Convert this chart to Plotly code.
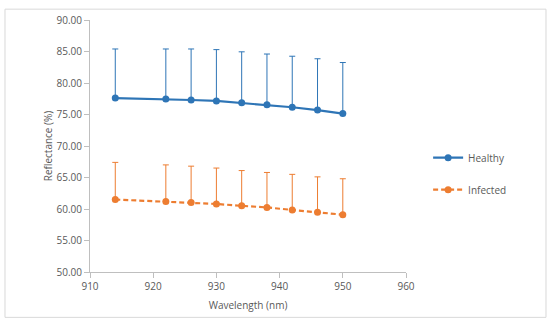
import plotly.graph_objects as go

wavelength = [914, 922, 926, 930, 934, 938, 942, 946, 950]
healthy = [77.6, 77.45, 77.3, 77.15, 76.85, 76.55, 76.15, 75.7, 75.15]
healthy_err = [7.8, 7.95, 8.1, 8.15, 8.1, 8.05, 8.1, 8.15, 8.1]
infected = [61.5, 61.2, 61.05, 60.8, 60.5, 60.25, 59.85, 59.5, 59.1]
infected_err = [5.9, 5.8, 5.75, 5.7, 5.6, 5.55, 5.65, 5.6, 5.7]

blue = "#2E75B6"
orange = "#ED7D31"
gray = "#595959"
font = "Open Sans"

fig = go.Figure()
fig.add_trace(go.Scatter(
    x=wavelength, y=healthy, name="Healthy", mode="lines+markers",
    line=dict(color=blue, width=2.2), marker=dict(size=7, color=blue),
    error_y=dict(type="data", array=healthy_err, arrayminus=[0]*len(healthy),
                 symmetric=False, color=blue, thickness=1, width=3),
    legendgroup="h"))
fig.add_trace(go.Scatter(
    x=wavelength, y=infected, name="Infected", mode="lines+markers",
    line=dict(color=orange, width=2.2, dash="5px,3px"), marker=dict(size=7, color=orange),
    error_y=dict(type="data", array=infected_err, arrayminus=[0]*len(infected),
                 symmetric=False, color=orange, thickness=1, width=3),
    legendgroup="i"))

fig.update_layout(
    width=550, height=324,
    margin=dict(l=90, r=144, t=16, b=52),
    paper_bgcolor="white", plot_bgcolor="white",
    font=dict(family=font, size=10, color=gray),
    showlegend=True,
    legend=dict(x=1.07, y=0.39, xanchor="left", yanchor="middle",
                font=dict(family=font, size=10, color=gray),
                tracegroupgap=13, bgcolor="rgba(0,0,0,0)"),
    xaxis=dict(range=[910, 960], dtick=10, tick0=910, showgrid=False, zeroline=False,
               showline=True, linecolor="#BFBFBF", linewidth=1,
               ticks="outside", ticklen=5, tickcolor="#BFBFBF",
               title=dict(text="Wavelength (nm)", font=dict(size=10, color=gray), standoff=9)),
    yaxis=dict(range=[50, 90], dtick=5, tickformat=".2f", showgrid=False, zeroline=False,
               showline=True, linecolor="#BFBFBF", linewidth=1,
               ticks="outside", ticklen=5, tickcolor="#BFBFBF",
               title=dict(text="Reflectance (%)", font=dict(size=10, color=gray), standoff=2)),
    shapes=[dict(type="rect", xref="paper", yref="paper",
                 x0=-0.269, x1=1.443, y0=-0.18, y1=1.043,
                 line=dict(color="#D9D9D9", width=1), fillcolor="rgba(0,0,0,0)", layer="below")],
)

fig.write_html("out.html", config={"displayModeBar": False},
               post_script="document.body.style.margin='0';")
